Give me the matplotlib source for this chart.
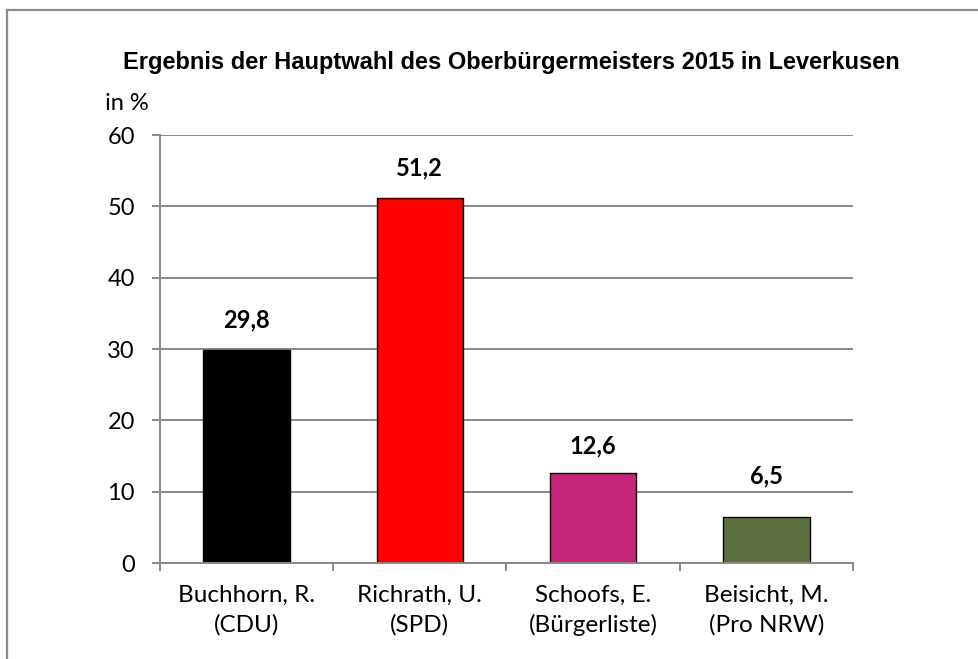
import matplotlib
matplotlib.use("Agg")
import matplotlib.pyplot as plt
from matplotlib.lines import Line2D

categories = ["Buchhorn, R.\n(CDU)", "Richrath, U.\n(SPD)", "Schoofs, E.\n(Bürgerliste)", "Beisicht, M.\n(Pro NRW)"]
values = [29.8, 51.2, 12.6, 6.5]
value_labels = ["29,8", "51,2", "12,6", "6,5"]
colors = ["#000000", "#FF0000", "#C4267A", "#5E7040"]
title = "Ergebnis der Hauptwahl des Oberbürgermeisters 2015 in Leverkusen"
ylabel = "in %"
yticks = [0, 10, 20, 30, 40, 50, 60]

W, H = 979, 659
fig = plt.figure(figsize=(W / 100, H / 100), dpi=100)
ax = fig.add_axes([160 / W, 1 - 563 / H, (853 - 160) / W, (563 - 135) / H])

body = ["Lato", "DejaVu Sans"]
grid_c = "#888888"

x = list(range(len(values)))
ax.bar(x, values, width=0.5, color=colors, edgecolor="black", linewidth=1.0, zorder=2)
ax.set_xlim(-0.5, len(values) - 0.5)
ax.set_ylim(0, 60)
ax.set_yticks(yticks)
ax.set_yticklabels([str(t) for t in yticks], family=body, fontsize=17)
ax.yaxis.grid(True, color=grid_c, linewidth=1.4, zorder=1)
ax.set_axisbelow(True)

ax.set_xticks(x)
ax.set_xticklabels(categories, family=body, fontsize=17.5, linespacing=1.45)
ax.tick_params(axis="x", length=0, pad=16)
# category boundary ticks
ax.set_xticks([i - 0.5 for i in range(len(values) + 1)], minor=True)
ax.tick_params(axis="x", which="minor", length=6, width=1.4, color=grid_c, direction="out")
ax.tick_params(axis="y", length=6, width=1.4, color=grid_c, direction="out", pad=12)

for s in ["top", "right"]:
    ax.spines[s].set_visible(False)
for s in ["left", "bottom"]:
    ax.spines[s].set_color(grid_c)
    ax.spines[s].set_linewidth(1.4)

offsets_px = [31, 30, 27, 41]
for xi, v, lab, off in zip(x, values, value_labels, offsets_px):
    ax.annotate(lab, (xi, v), xytext=(0, off * 0.72), textcoords="offset points",
                ha="center", va="center", fontsize=17, fontweight="bold", family=body)

fig.text(511 / W, 1 - 63 / H, title, ha="center", va="center", fontsize=17,
         fontweight="bold", family=["Liberation Sans", "DejaVu Sans"])
fig.text(105 / W, 1 - 103 / H, ylabel, ha="left", va="center", fontsize=17, family=body)

# outer border (left and top)
fig.add_artist(Line2D([7.5 / W, 7.5 / W], [0, 1 - 10 / H], transform=fig.transFigure, color="#8C8C8C", linewidth=1.6))
fig.add_artist(Line2D([7.5 / W, 1], [1 - 10 / H, 1 - 10 / H], transform=fig.transFigure, color="#8C8C8C", linewidth=1.6))

fig.savefig("out.png", dpi=100)
